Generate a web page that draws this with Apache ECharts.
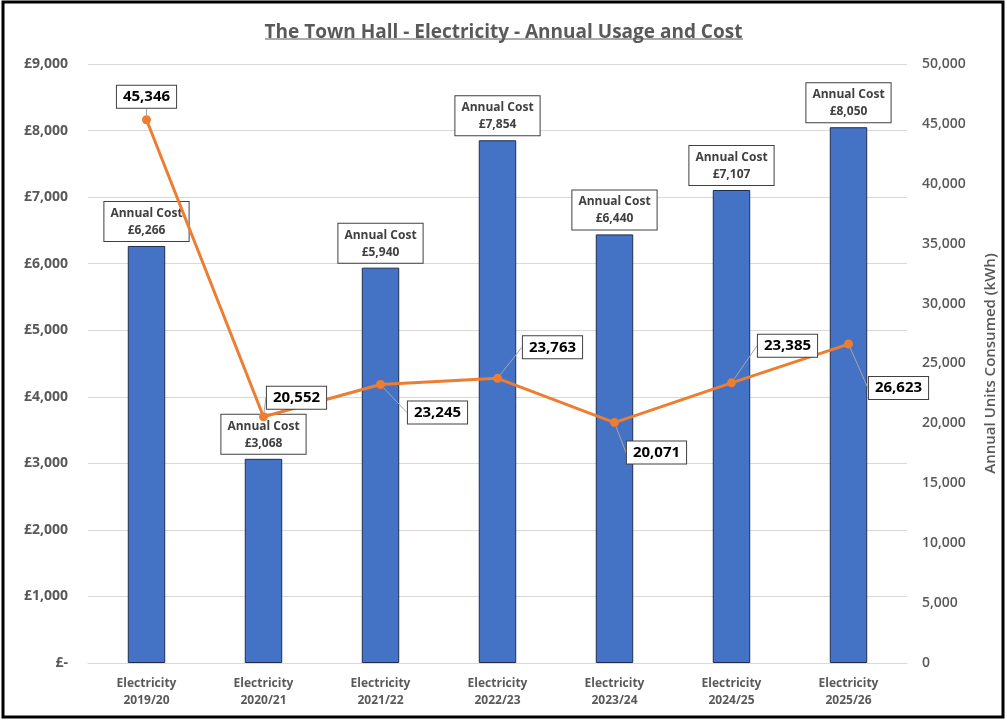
<!DOCTYPE html>
<html><head><meta charset="utf-8">
<script src="https://cdn.jsdelivr.net/npm/echarts@6/dist/echarts.min.js"></script>
<style>html,body{margin:0;padding:0;background:#fff}#c{width:1007px;height:720px}</style>
</head><body><div id="c"></div>
<script>
const categories = ['Electricity\n2019/20','Electricity\n2020/21','Electricity\n2021/22','Electricity\n2022/23','Electricity\n2023/24','Electricity\n2024/25','Electricity\n2025/26'];
const annualCost = [6266, 3068, 5940, 7854, 6440, 7107, 8050];
const unitsKWh = [45346, 20552, 23245, 23763, 20071, 23385, 26623];
const costTicks = {min: 0, max: 9000, interval: 1000};
const unitTicks = {min: 0, max: 50000, interval: 5000};

const lineLabelOffsets = [[0,-23],[33,-19],[57,28],[55,-31],[42,30],[56,-37],[50,44]];
const font = 'Open Sans';
const fmt = v => v.toLocaleString('en-GB');

const chart = echarts.init(document.getElementById('c'));
chart.setOption({
  animation: false,
  textStyle: {fontFamily: font},
  title: {text: 'The Town Hall - Electricity - Annual Usage and Cost', left: 'center', top: 18,
    textStyle: {fontFamily: font, fontSize: 19, fontWeight: 'bold', color: '#595959'}},
  grid: {left: 88, right: 100, top: 64, bottom: 57},
  xAxis: {type: 'category', data: categories,
    axisLine: {lineStyle: {color: '#d9d9d9', width: 1}}, axisTick: {show: false},
    axisLabel: {fontFamily: font, fontSize: 12, fontWeight: 'bold', color: '#595959', margin: 12, lineHeight: 17}},
  yAxis: [
    {type: 'value', min: costTicks.min, max: costTicks.max, interval: costTicks.interval,
      splitLine: {lineStyle: {color: '#d9d9d9'}},
      axisLabel: {fontFamily: font, fontSize: 14, fontWeight: 'bold', color: '#595959', margin: 20,
        formatter: v => v === 0 ? '£-' : '£' + fmt(v)}},
    {type: 'value', min: unitTicks.min, max: unitTicks.max, interval: unitTicks.interval,
      splitLine: {show: false},
      name: 'Annual Units Consumed (kWh)', nameLocation: 'middle', nameRotate: 90, nameGap: 76,
      nameTextStyle: {fontFamily: font, fontSize: 15, fontWeight: 600, color: '#595959'},
      axisLabel: {fontFamily: font, fontSize: 14, fontWeight: 600, color: '#595959', margin: 15, formatter: v => fmt(v)}}
  ],
  series: [
    {type: 'bar', data: annualCost, yAxisIndex: 0, barWidth: '32%',
      itemStyle: {color: '#4472C4', borderColor: '#1f2d4d', borderWidth: 1},
      label: {show: true, position: 'top', distance: 5,
        formatter: p => 'Annual Cost\n£' + fmt(p.value),
        fontFamily: font, fontSize: 12, fontWeight: 'bold', color: '#404040', lineHeight: 17,
        backgroundColor: '#fff', borderColor: '#404040', borderWidth: 1, padding: [3, 6, 2, 6]}},
    {type: 'line', data: unitsKWh, yAxisIndex: 1, symbol: 'circle', symbolSize: 9,
      lineStyle: {color: '#ED7D31', width: 3}, itemStyle: {color: '#ED7D31'},
      label: {show: true, position: 'inside', formatter: p => fmt(p.value),
        fontFamily: font, fontSize: 15, fontWeight: 'bold', color: '#000',
        backgroundColor: '#fff', borderColor: '#404040', borderWidth: 1, padding: [4, 6, 3, 6]},
      labelLine: {show: true, lineStyle: {color: '#a6a6a6', width: 1}},
      labelLayout: p => ({dx: lineLabelOffsets[p.dataIndex][0], dy: lineLabelOffsets[p.dataIndex][1]})}
  ],
  graphic: [
    {type: 'rect', silent: true, shape: {x: 3, y: 2, width: 1000, height: 715},
      style: {fill: 'none', stroke: '#000', lineWidth: 3}},
    {type: 'line', silent: true, shape: {x1: 265, y1: 39, x2: 743, y2: 39},
      style: {stroke: '#595959', lineWidth: 1.2}}
  ]
});
</script></body></html>
